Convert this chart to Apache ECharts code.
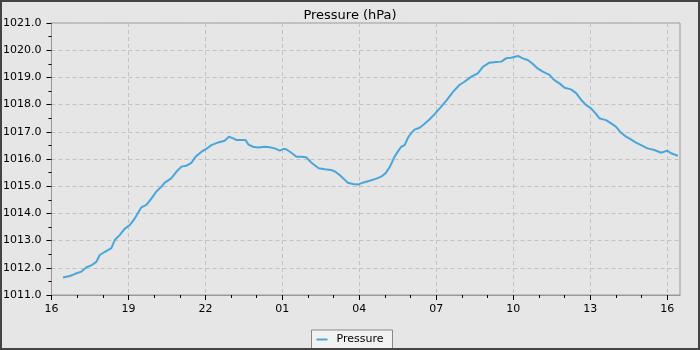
<!DOCTYPE html>
<html>
<head>
<meta charset="utf-8">
<title>Pressure (hPa)</title>
<script src="https://cdn.jsdelivr.net/npm/echarts@6/dist/echarts.min.js"></script>
<style>
  html, body { margin: 0; padding: 0; background: #e6e6e6; }
  #chart { width: 700px; height: 350px; }
</style>
</head>
<body>
<div id="chart"></div>
<script>
// Readings: clock time (HH:MM, running past midnight) and pressure in hPa
const times = [
  '16:27','16:43','16:54','17:10','17:22','17:33','17:45','17:53','18:05','18:20',
  '18:28','18:40','18:51','19:03','19:15','19:30','19:42','19:54','20:05','20:17',
  '20:25','20:40','20:52','21:04','21:15','21:27','21:37','21:51','22:02','22:14',
  '22:30','22:45','22:55','23:05','23:12','23:24','23:34','23:40','23:51','00:03',
  '00:19','00:30','00:42','00:54','01:03','01:09','01:21','01:33','01:44','01:56',
  '02:08','02:15','02:25','02:39','02:54','03:04','03:14','03:25','03:33','03:45',
  '03:57','04:08','04:24','04:40','04:51','05:01','05:11','05:17','05:22','05:30',
  '05:38','05:46','05:54','06:01','06:09','06:21','06:32','06:44','06:56','07:08',
  '07:23','07:39','07:54','08:06','08:22','08:37','08:49','09:04','09:20','09:32',
  '09:43','09:55','10:11','10:22','10:34','10:46','10:57','11:09','11:25','11:36',
  '11:48','12:00','12:15','12:27','12:39','12:50','13:02','13:14','13:21','13:37',
  '13:49','14:00','14:12','14:24','14:35','14:47','14:59','15:14','15:30','15:46',
  '16:00','16:09','16:25'
];
const pressure = [
  1011.64,1011.70,1011.77,1011.86,1012.02,1012.09,1012.22,1012.47,1012.59,1012.72,
  1013.02,1013.21,1013.43,1013.57,1013.82,1014.22,1014.31,1014.55,1014.80,1014.98,
  1015.13,1015.29,1015.53,1015.72,1015.75,1015.86,1016.08,1016.27,1016.37,1016.51,
  1016.61,1016.67,1016.82,1016.76,1016.70,1016.70,1016.70,1016.54,1016.45,1016.42,
  1016.45,1016.43,1016.39,1016.31,1016.37,1016.36,1016.23,1016.08,1016.08,1016.06,
  1015.86,1015.78,1015.66,1015.62,1015.60,1015.53,1015.41,1015.25,1015.13,1015.08,
  1015.06,1015.13,1015.20,1015.28,1015.35,1015.47,1015.70,1015.90,1016.08,1016.27,
  1016.45,1016.51,1016.79,1016.94,1017.08,1017.15,1017.29,1017.45,1017.65,1017.86,
  1018.14,1018.47,1018.72,1018.84,1019.03,1019.15,1019.39,1019.54,1019.57,1019.58,
  1019.70,1019.72,1019.79,1019.70,1019.64,1019.49,1019.33,1019.21,1019.09,1018.90,
  1018.78,1018.62,1018.56,1018.42,1018.17,1017.99,1017.86,1017.65,1017.50,1017.43,
  1017.31,1017.19,1016.97,1016.82,1016.72,1016.60,1016.51,1016.39,1016.33,1016.23,
  1016.31,1016.21,1016.12
];
// Hour-of-day tick labels (every three hours) and the hourly minor ticks
const hourTicks = [16, 19, 22, 25, 28, 31, 34, 37, 40];
const minorHourTicks = [17, 18, 20, 21, 23, 24, 26, 27, 29, 30, 32, 33, 35, 36, 38, 39];

// Convert clock times into continuous hours, adding a day after midnight
const hours = [];
let dayOffset = 0, prev = -1;
times.forEach(function (t) {
  const p = t.split(':');
  let h = parseInt(p[0], 10) + parseInt(p[1], 10) / 60;
  if (h < prev) dayOffset += 24;
  prev = h;
  hours.push(h + dayOffset);
});
const seriesData = hours.map(function (h, i) { return [h, pressure[i]]; });

const font = 'DejaVu Sans';
const chart = echarts.init(document.getElementById('chart'), null, { renderer: 'canvas' });

chart.setOption({
  backgroundColor: '#e6e6e6',
  animation: false,
  textStyle: { fontFamily: font },
  title: {
    text: 'Pressure (hPa)',
    left: 'center',
    top: 4,
    textStyle: { fontFamily: font, fontSize: 13, fontWeight: 'normal', color: '#000' }
  },
  grid: {
    left: 50, right: 20, top: 23, bottom: 55,
    show: true, borderColor: '#999', borderWidth: 1, backgroundColor: 'transparent'
  },
  legend: {
    bottom: 0,
    left: 'center',
    data: ['Pressure'],
    icon: 'rect',
    itemWidth: 11,
    itemHeight: 2,
    padding: [4, 9, 5, 5],
    backgroundColor: '#f2f2f2',
    borderColor: '#888',
    borderWidth: 1,
    borderRadius: 0,
    textStyle: { fontFamily: font, fontSize: 11, color: '#000', padding: [0, 0, 0, 4] }
  },
  xAxis: [
    {
      type: 'value',
      min: 16,
      max: 40.5,
      interval: 3,
      axisLine: { show: true, lineStyle: { color: '#999' } },
      axisTick: { show: true, length: 5, customValues: hourTicks, lineStyle: { color: '#000' } },
      axisLabel: {
        customValues: hourTicks,
        fontFamily: font, fontSize: 11, color: '#000', margin: 9,
        formatter: function (v) {
          const h = Math.round(v) % 24;
          return (h < 10 ? '0' : '') + h;
        }
      },
      splitLine: { show: true, lineStyle: { color: '#c2c2c2', type: [4, 3], width: 1 } }
    },
    {
      type: 'value',
      min: 16,
      max: 40.5,
      position: 'bottom',
      axisLine: { show: false },
      axisTick: { show: true, length: 3, customValues: minorHourTicks, lineStyle: { color: '#000' } },
      axisLabel: { show: false },
      splitLine: { show: false }
    }
  ],
  yAxis: {
    type: 'value',
    min: 1011,
    max: 1021,
    interval: 1,
    axisLine: { show: true, lineStyle: { color: '#999' } },
    axisTick: { show: true, length: 5, lineStyle: { color: '#000' } },
    minorTick: { show: true, splitNumber: 2, length: 3, lineStyle: { color: '#000' } },
    axisLabel: {
      fontFamily: font, fontSize: 11, color: '#000', margin: 10,
      formatter: function (v) { return v.toFixed(1); }
    },
    splitLine: { show: true, lineStyle: { color: '#c2c2c2', type: [4, 3], width: 1 } }
  },
  graphic: [
    {
      type: 'rect',
      silent: true,
      z: 100,
      shape: { x: 1, y: 1, width: 698, height: 348 },
      style: { fill: 'none', stroke: '#444', lineWidth: 2 }
    }
  ],
  series: [
    {
      name: 'Pressure',
      type: 'line',
      xAxisIndex: 0,
      data: seriesData,
      showSymbol: false,
      symbol: 'none',
      lineStyle: { color: '#4aa6da', width: 2 },
      itemStyle: { color: '#4aa6da' }
    }
  ]
});
</script>
</body>
</html>
